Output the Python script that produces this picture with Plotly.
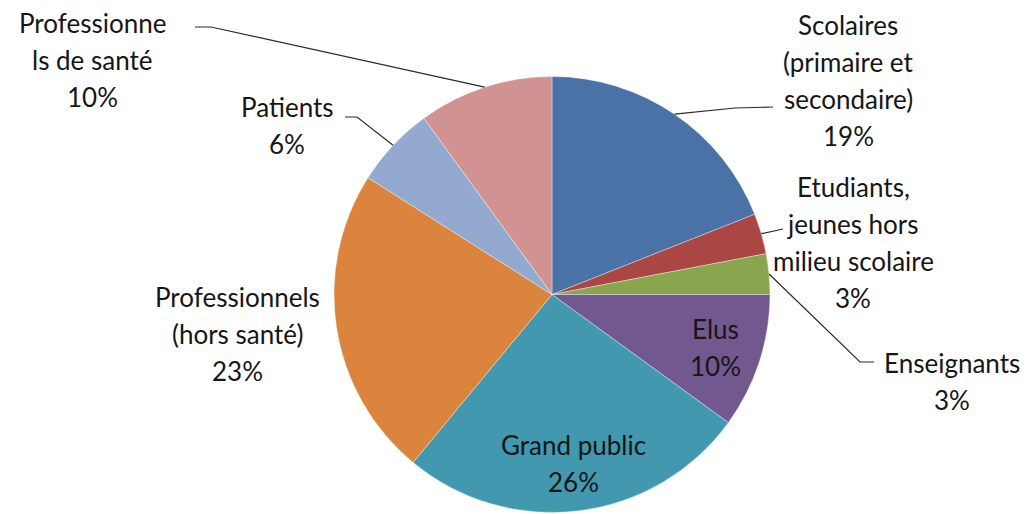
import math
import plotly.graph_objects as go

# Audience breakdown (share of actions, %)
categories = [
    "Scolaires (primaire et secondaire)",
    "Etudiants, jeunes hors milieu scolaire",
    "Enseignants",
    "Elus",
    "Grand public",
    "Professionnels (hors santé)",
    "Patients",
    "Professionnels de santé",
]
values = [19, 3, 3, 10, 26, 23, 6, 10]
label_lines = [
    ["Scolaires", "(primaire et", "secondaire)"],
    ["Etudiants,", "jeunes hors", "milieu scolaire"],
    ["Enseignants"],
    ["Elus"],
    ["Grand public"],
    ["Professionnels", "(hors santé)"],
    ["Patients"],
    ["Professionne", "ls de santé"],
]
colors = ["#4A72A6", "#AA4643", "#89A54E", "#71588F",
          "#4198AF", "#DB843D", "#93A9CF", "#D19392"]

W, H = 1033, 514
CX, CY, R = 552, 294.5, 218          # pie centre / radius in pixels
LINE_H = 37                          # label line spacing in pixels
FONT = dict(family="Lato, 'Open Sans', sans-serif", size=26, color="#161616")


def px(x, y):
    return x / W, 1 - y / H


def slice_point(i, frac):
    """Point at the mid-angle of slice i, at frac * radius from the centre."""
    total = sum(values)
    start = sum(values[:i]) / total
    mid = (start + values[i] / total / 2) * 2 * math.pi
    return CX + frac * R * math.sin(mid), CY - frac * R * math.cos(mid)


fig = go.Figure(go.Pie(
    values=values,
    labels=categories,
    marker=dict(colors=colors, line=dict(color="rgba(255,255,255,0.6)", width=0.6)),
    sort=False,
    direction="clockwise",
    rotation=0,
    textinfo="none",
    hoverinfo="label+percent",
    showlegend=False,
    domain=dict(x=[(CX - R) / W, (CX + R) / W],
                y=[1 - (CY + R) / H, 1 - (CY - R) / H]),
))

# label block placement: (centre x, first line y) for outside labels,
# radial fraction for labels drawn inside their slice
outside = {
    0: (848, 25),
    1: (853, 187),
    2: (952, 363),
    5: (237, 297),
    6: (287, 107),
    7: (92, 23),
}
inside = {3: 0.79, 4: 0.78}

# leader lines: elbow and end point beside the label
leaders = {
    0: [(735, 108), (773, 107)],
    1: [(783, 229)],
    2: [(860, 362), (874, 362)],
    6: [(357, 117), (345, 117)],
    7: [(211, 27), (195, 27)],
}

annotations = []
for i, lines in enumerate(label_lines):
    text_lines = lines + [f"{values[i]}%"]
    if i in outside:
        x0, y0 = outside[i]
    else:
        mx, my = slice_point(i, inside[i])
        x0, y0 = mx, my - LINE_H * (len(text_lines) - 1) / 2
    for k, t in enumerate(text_lines):
        ax, ay = px(x0, y0 + k * LINE_H)
        annotations.append(dict(
            x=ax, y=ay, xref="paper", yref="paper", text=t,
            showarrow=False, xanchor="center", yanchor="middle", font=FONT,
        ))

shapes = []
for i, pts in leaders.items():
    sx, sy = slice_point(i, 1.0)
    path = [px(sx, sy)] + [px(x, y) for x, y in pts]
    d = "M " + " L ".join(f"{x:.5f},{y:.5f}" for x, y in path)
    shapes.append(dict(type="path", path=d, xref="paper", yref="paper",
                       line=dict(color="#2a2a2a", width=1.2)))

fig.update_layout(
    width=W, height=H,
    margin=dict(l=0, r=0, t=0, b=0),
    paper_bgcolor="white",
    plot_bgcolor="white",
    annotations=annotations,
    shapes=shapes,
)

fig.write_html("out.html")
